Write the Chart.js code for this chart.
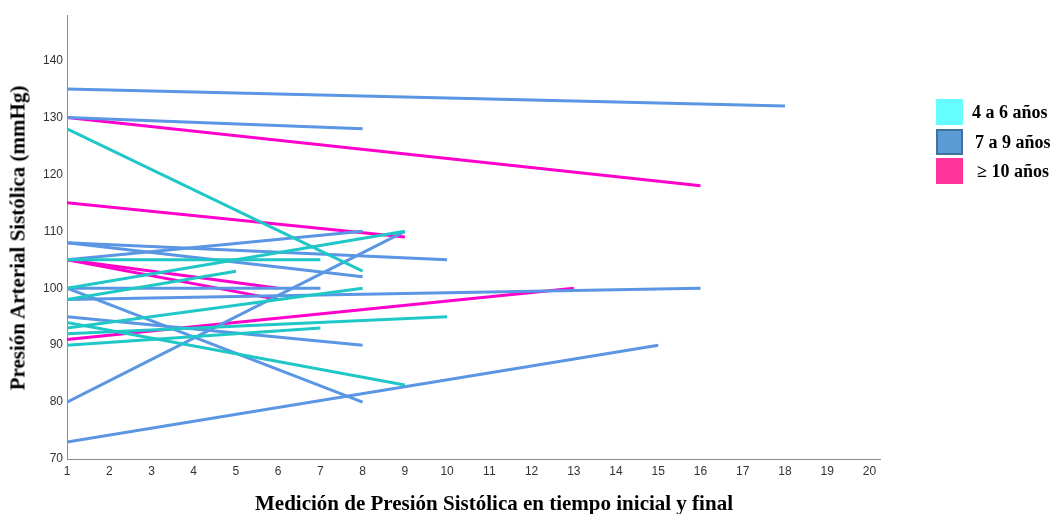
<!DOCTYPE html>
<html>
<head>
<meta charset="utf-8">
<script src="https://cdn.jsdelivr.net/npm/chart.js@4/dist/chart.umd.min.js"></script>
<style>
  html, body { margin: 0; padding: 0; background: #fff; }
  #wrap { position: relative; width: 1063px; height: 514px; overflow: hidden; }
  #chart { position: absolute; left: 0; top: 0; }
  .axisTitle {
    position: absolute;
    font-family: "Liberation Serif", "Times New Roman", serif;
    font-weight: bold;
    font-size: 21px;
    color: #000;
    white-space: nowrap;
  }
  #yTitle { left: 18px; top: 238px; transform: translate(-50%, -50%) rotate(-90deg); }
  #xTitle { left: 494px; top: 503px; transform: translate(-50%, -50%); }
  .legendItem { position: absolute; left: 936px; height: 26px; }
  .legendItem .swatch { position: absolute; left: 0; top: 0; width: 27px; height: 26px; box-sizing: border-box; }
  .legendItem .label {
    position: absolute; left: 36px; top: 13px; transform: translateY(-50%);
    font-family: "Liberation Serif", "Times New Roman", serif;
    font-weight: bold; font-size: 18px; color: #000; white-space: nowrap;
  }
</style>
</head>
<body>
<div id="wrap">
  <canvas id="chart" width="1063" height="514"></canvas>
  <div id="yTitle" class="axisTitle">Presión Arterial Sistólica (mmHg)</div>
  <div id="xTitle" class="axisTitle">Medición de Presión Sistólica en tiempo inicial y final</div>
  <div id="legend"></div>
</div>
<script>
// age groups
const groups = ["4 a 6 años", "7 a 9 años", "≥ 10 años"];

// one entry per child: group index, initial SBP, final SBP, index of final measurement
const lineGroup    = [0, 0, 0, 0, 0, 0, 0, 0,
                      1, 1, 1, 1, 1, 1, 1, 1, 1, 1, 1,
                      2, 2, 2, 2, 2];
const initialBP    = [128, 105, 100, 98, 93, 92, 90, 94,
                      135, 130, 108, 108, 105, 100, 98, 100, 95, 80, 73,
                      130, 115, 105, 105, 91];
const finalBP      = [103, 105, 110, 103, 100, 95, 93, 83,
                      132, 128, 105, 102, 110, 100, 100, 80, 90, 110, 90,
                      118, 109, 100, 98, 100];
const finalMeasure = [8, 7, 9, 5, 8, 10, 7, 9,
                      18, 8, 10, 8, 8, 7, 16, 8, 8, 9, 15,
                      16, 9, 6, 6, 13];

const yTicks = [70, 80, 90, 100, 110, 120, 130, 140];
const xTicks = [1, 2, 3, 4, 5, 6, 7, 8, 9, 10, 11, 12, 13, 14, 15, 16, 17, 18, 19, 20];

// styles
const lineColors = ["#1fc7c7", "#5a96e3", "#ff00cc"];
const swatchColors = ["#66ffff", "#5b9bd5", "#ff3399"];
const swatchBorders = ["#66ffff", "#41719c", "#ff3399"];
const legendTops = [99, 129, 158];
const legendLabelShift = [0, 3, 5];

const datasets = initialBP.map((start, i) => ({
  label: groups[lineGroup[i]],
  data: [{ x: 1, y: start }, { x: finalMeasure[i], y: finalBP[i] }],
  borderColor: lineColors[lineGroup[i]],
  borderWidth: 3,
  pointRadius: 0,
  tension: 0,
  fill: false,
}));

const tickFont = { family: "'Liberation Sans Narrow', 'Liberation Sans', Arial, sans-serif", size: 12 };

new Chart(document.getElementById("chart").getContext("2d"), {
  type: "line",
  data: { datasets },
  options: {
    responsive: false,
    animation: false,
    layout: { padding: { left: 0, top: 15, right: 183, bottom: 0 } },
    plugins: { legend: { display: false }, tooltip: { enabled: false } },
    scales: {
      x: {
        type: "linear",
        min: 1,
        max: 20.25,
        afterFit: (s) => { s.height = 55; },
        afterBuildTicks: (s) => { s.ticks = xTicks.map((v) => ({ value: v })); },
        grid: { display: false, drawTicks: false },
        border: { color: "#8c8c8c", width: 1 },
        ticks: { color: "#333", font: tickFont, padding: 5, maxRotation: 0, autoSkip: false },
      },
      y: {
        type: "linear",
        min: 70,
        max: 148,
        afterFit: (s) => { s.width = 67; },
        afterBuildTicks: (s) => { s.ticks = yTicks.map((v) => ({ value: v })); },
        grid: { display: false, drawTicks: false },
        border: { color: "#8c8c8c", width: 1 },
        ticks: { color: "#333", font: tickFont, padding: 4 },
      },
    },
  },
});

// legend
const legend = document.getElementById("legend");
groups.forEach((name, i) => {
  const item = document.createElement("div");
  item.className = "legendItem";
  item.style.top = legendTops[i] + "px";
  item.innerHTML = `<div class="swatch"></div><div class="label">${name}</div>`;
  const sw = item.querySelector(".swatch");
  sw.style.background = swatchColors[i];
  sw.style.border = i === 1 ? `2px solid ${swatchBorders[i]}` : "none";
  item.querySelector(".label").style.left = 36 + legendLabelShift[i] + "px";
  legend.appendChild(item);
});
</script>
</body>
</html>
